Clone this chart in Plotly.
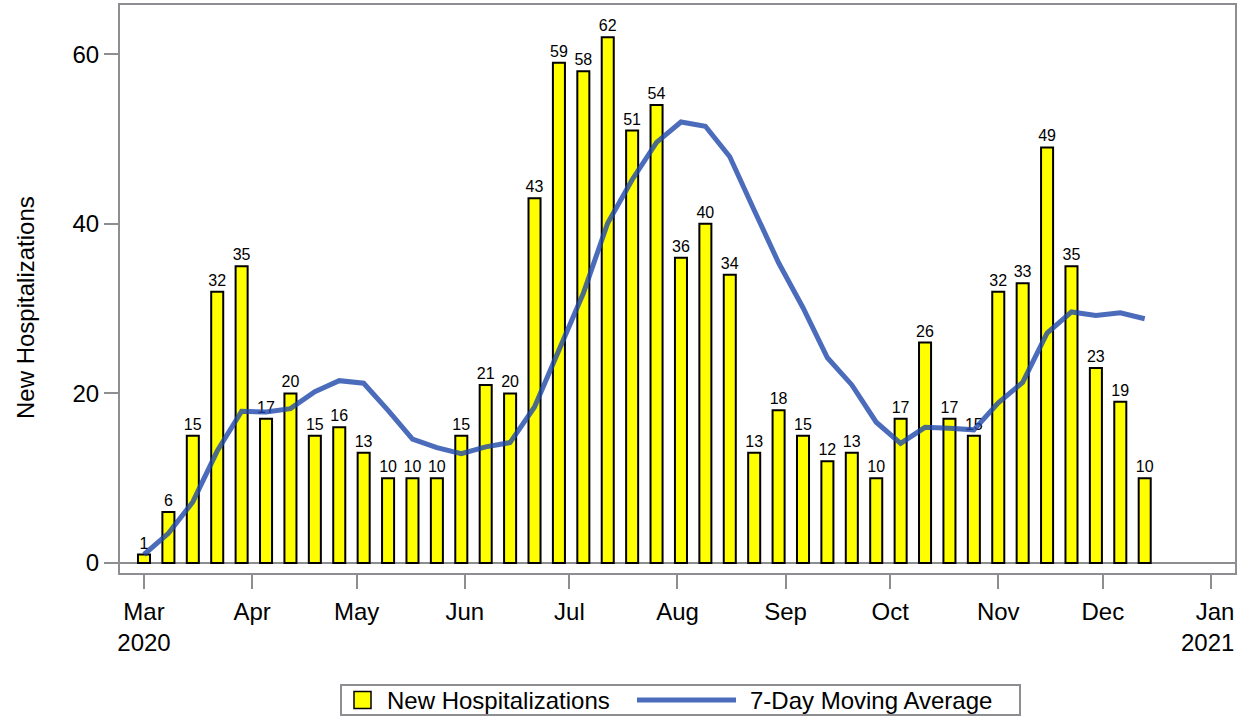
import plotly.graph_objects as go

week_dates = [
    "2020-03-01", "2020-03-08", "2020-03-15", "2020-03-22", "2020-03-29",
    "2020-04-05", "2020-04-12", "2020-04-19", "2020-04-26", "2020-05-03",
    "2020-05-10", "2020-05-17", "2020-05-24", "2020-05-31", "2020-06-07",
    "2020-06-14", "2020-06-21", "2020-06-28", "2020-07-05", "2020-07-12",
    "2020-07-19", "2020-07-26", "2020-08-02", "2020-08-09", "2020-08-16",
    "2020-08-23", "2020-08-30", "2020-09-06", "2020-09-13", "2020-09-20",
    "2020-09-27", "2020-10-04", "2020-10-11", "2020-10-18", "2020-10-25",
    "2020-11-01", "2020-11-08", "2020-11-15", "2020-11-22", "2020-11-29",
    "2020-12-06", "2020-12-13",
]

new_hosp = [1, 6, 15, 32, 35, 17, 20, 15, 16, 13, 10, 10, 10, 15, 21, 20,
            43, 59, 58, 62, 51, 54, 36, 40, 34, 13, 18, 15, 12, 13, 10, 17,
            26, 17, 15, 32, 33, 49, 35, 23, 19, 10]

moving_avg = [1.0, 3.5, 7.2, 13.2, 17.9, 17.8, 18.2, 20.2, 21.5, 21.2, 18.0,
              14.6, 13.6, 12.9, 13.7, 14.2, 18.4, 25.1, 31.8, 40.1, 45.2,
              49.6, 52.0, 51.5, 47.9, 41.6, 35.4, 30.1, 24.2, 21.0, 16.6,
              14.1, 16.0, 15.9, 15.7, 18.9, 21.3, 27.1, 29.6, 29.2, 29.5, 28.8]

tick_vals = ["2020-03-01", "2020-04-01", "2020-05-01", "2020-06-01",
             "2020-07-01", "2020-08-01", "2020-09-01", "2020-10-01",
             "2020-11-01", "2020-12-01", "2021-01-01"]
tick_text = ["Mar<br>2020", "Apr", "May", "Jun", "Jul", "Aug", "Sep", "Oct",
             "Nov", "Dec", ""]
last_tick_label = "Jan<br>2021"

bar_name = "New Hospitalizations"
line_name = "7-Day Moving Average"
y_title = "New Hospitalizations"

FONT = "Liberation Sans, Arial, sans-serif"
AXIS_GRAY = "#8c8e92"
LINE_COLOR = "rgba(30,70,170,0.8)"
DAY_MS = 86400000

# figure geometry (pixels)
W, H = 1243, 719
ML, MR, MT, MB = 120, 8, 5, 146
PW, PH = W - ML - MR, H - MT - MB


def px(x):
    return (x - ML) / PW


def py(y):
    return (H - MB - y) / PH


fig = go.Figure()
fig.add_trace(go.Bar(
    x=week_dates, y=new_hosp, name=bar_name,
    width=3.45 * DAY_MS,
    marker=dict(color="#ffff00", line=dict(color="black", width=2)),
    text=new_hosp, textposition="outside", cliponaxis=False,
    constraintext="none",
    textfont=dict(size=16, color="black", family=FONT),
    showlegend=False,
))
fig.add_trace(go.Scatter(
    x=week_dates, y=moving_avg, name=line_name,
    mode="lines", line=dict(color=LINE_COLOR, width=5),
    showlegend=False,
))

# legend drawn in paper coordinates
LEG_Y = 700
shapes = [
    dict(type="rect", xref="paper", yref="paper",
         x0=px(341), x1=px(1020), y0=py(715), y1=py(685),
         line=dict(color=AXIS_GRAY, width=2), fillcolor="rgba(0,0,0,0)"),
    dict(type="rect", xref="paper", yref="paper",
         x0=px(354), x1=px(371), y0=py(LEG_Y + 8.5), y1=py(LEG_Y - 8.5),
         line=dict(color="black", width=1.5), fillcolor="#ffff00"),
    dict(type="line", xref="paper", yref="paper",
         x0=px(637), x1=px(736), y0=py(LEG_Y), y1=py(LEG_Y),
         line=dict(color=LINE_COLOR, width=5)),
]
annotations = [
    dict(text=bar_name, xref="paper", yref="paper", x=px(385), y=py(LEG_Y),
         xanchor="left", yanchor="middle", showarrow=False,
         font=dict(size=24, family=FONT, color="black")),
    dict(text=line_name, xref="paper", yref="paper", x=px(748), y=py(LEG_Y),
         xanchor="left", yanchor="middle", showarrow=False,
         font=dict(size=24, family=FONT, color="black")),
    dict(text=y_title, xref="paper", yref="paper", x=px(25), y=py(308),
         xanchor="center", yanchor="middle", textangle=-90, showarrow=False,
         font=dict(size=24, family=FONT, color="black")),
    dict(text=last_tick_label, xref="paper", yref="paper", x=px(1236),
         y=py(596), xanchor="right", yanchor="top", align="right",
         showarrow=False, font=dict(size=24, family=FONT, color="black")),
]

fig.update_layout(
    width=W, height=H,
    margin=dict(l=ML, r=MR, t=MT, b=MB, autoexpand=False),
    paper_bgcolor="white", plot_bgcolor="white",
    font=dict(family=FONT, size=24, color="black"),
    showlegend=False,
    bargap=0.5,
    shapes=shapes,
    annotations=annotations,
)
fig.update_xaxes(
    type="date", automargin=False,
    range=["2020-02-23 02:50", "2021-01-07 21:30"],
    tickvals=tick_vals, ticktext=tick_text,
    ticks="outside", ticklen=14, tickwidth=2, tickcolor=AXIS_GRAY,
    ticklabelstandoff=2,
    showline=True, linecolor=AXIS_GRAY, linewidth=2, mirror=True,
    showgrid=False, zeroline=False,
    tickfont=dict(size=24, family=FONT),
)
fig.update_yaxes(
    range=[-1.18, 65.8], automargin=False,
    tickvals=[0, 20, 40, 60],
    ticks="outside", ticklen=14, tickwidth=2, tickcolor=AXIS_GRAY,
    showline=True, linecolor=AXIS_GRAY, linewidth=2, mirror=True,
    showgrid=False, zeroline=True, zerolinecolor=AXIS_GRAY, zerolinewidth=2,
    tickfont=dict(size=24, family=FONT),
)

fig.write_html(
    "out.html",
    config={"displayModeBar": False},
    post_script="document.body.style.margin='0';document.body.style.padding='0';",
)
